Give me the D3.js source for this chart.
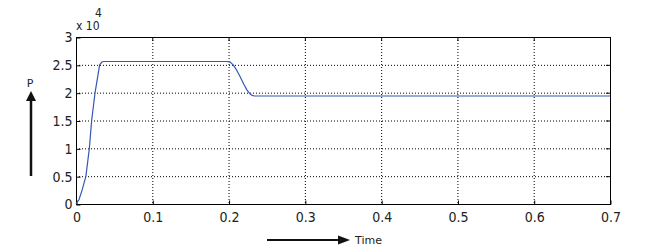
<!DOCTYPE html>
<html><head><meta charset="utf-8">
<script src="https://cdn.jsdelivr.net/npm/d3@7"></script>
<style>body{margin:0;background:#fff}svg{display:block}</style>
</head><body>
<svg id="c" width="660" height="251"></svg>
<script>
const xTicks = [0,0.1,0.2,0.3,0.4,0.5,0.6,0.7];
const yTicks = [0,0.5,1,1.5,2,2.5,3];
const yTickLabels = ["0","0.5","1","1.5","2","2.5","3"];
const timeVals = [0,0.004,0.008,0.013,0.0175,0.0205,0.025,0.031,0.034,0.036,0.1,0.198,0.202,0.206,0.21,0.215,0.22,0.224,0.228,0.231,0.234,0.237,0.3,0.4,0.5,0.6,0.7];
const pVals =    [0,0.08,0.25,0.5,1.0,1.5,2.0,2.5,2.55,2.56,2.56,2.56,2.55,2.5,2.42,2.29,2.15,2.05,1.98,1.95,1.94,1.94,1.94,1.94,1.94,1.94,1.94];

const svg = d3.select("#c");
const L=76,R=610,T=37,B=204;
const x = d3.scaleLinear().domain([0,0.7]).range([L,R]);
const y = d3.scaleLinear().domain([0,3]).range([B,T]);
const font = "'Liberation Sans Narrow','DejaVu Sans Condensed',sans-serif";

// grid
svg.append("g").selectAll("line").data(xTicks.slice(1,-1)).join("line")
  .attr("x1",d=>x(d)+0.5).attr("x2",d=>x(d)+0.5).attr("y1",T).attr("y2",B)
  .attr("stroke","#000").attr("stroke-dasharray","1,2").attr("stroke-width",1);
svg.append("g").selectAll("line").data(yTicks.slice(1,-1)).join("line")
  .attr("y1",d=>y(d)+0.5).attr("y2",d=>y(d)+0.5).attr("x1",L).attr("x2",R)
  .attr("stroke","#000").attr("stroke-dasharray","1,2").attr("stroke-width",1);

// frame
svg.append("rect").attr("x",L+0.5).attr("y",T+0.5).attr("width",R-L).attr("height",B-T)
  .attr("fill","none").attr("stroke","#000");

// axes via d3
const xa = svg.append("g").attr("transform",`translate(0.5,${B+0.5})`)
  .call(d3.axisBottom(x).tickValues(xTicks).tickSize(-4).tickPadding(8).tickFormat(d=>String(d)));
const ya = svg.append("g").attr("transform",`translate(${L+0.5},0.5)`)
  .call(d3.axisLeft(y).tickValues(yTicks).tickSize(-4).tickPadding(4).tickFormat((d,i)=>yTickLabels[i]));
[xa,ya].forEach(a=>{a.select(".domain").remove();
  a.selectAll("text").attr("font-family",font).attr("font-size",14).attr("fill","#222");});
// right / top ticks
svg.append("g").selectAll("line").data(yTicks).join("line")
  .attr("x1",R-4).attr("x2",R).attr("y1",d=>y(d)+0.5).attr("y2",d=>y(d)+0.5).attr("stroke","#000");
svg.append("g").selectAll("line").data(xTicks).join("line")
  .attr("y1",T).attr("y2",T+4).attr("x1",d=>x(d)+0.5).attr("x2",d=>x(d)+0.5).attr("stroke","#000");

// exponent
svg.append("text").attr("x",76).attr("y",30).attr("font-family",font).attr("font-size",12).attr("fill","#222").text("x 10");
svg.append("text").attr("x",95).attr("y",17).attr("font-family",font).attr("font-size",12).attr("fill","#222").text("4");

// line
const line = d3.line().x((d,i)=>x(timeVals[i])).y(d=>y(d));
svg.append("path").datum(pVals).attr("d",line).attr("fill","none").attr("stroke","#3558b0").attr("stroke-width",1.2);

// P arrow
svg.append("text").attr("x",30).attr("y",87).attr("text-anchor","middle").attr("font-family","'DejaVu Sans',sans-serif").attr("font-size",11).attr("fill","#222").text("P");
svg.append("line").attr("x1",31).attr("x2",31).attr("y1",176).attr("y2",99).attr("stroke","#111").attr("stroke-width",2.5);
svg.append("path").attr("d","M31,91 L26,101 L36,101 Z").attr("fill","#111");

// Time arrow
svg.append("line").attr("x1",267).attr("x2",340).attr("y1",240).attr("y2",240).attr("stroke","#111").attr("stroke-width",2);
svg.append("path").attr("d","M350,240 L338,235.5 L338,244.5 Z").attr("fill","#111");
svg.append("text").attr("x",355).attr("y",244).attr("font-family","'DejaVu Sans',sans-serif").attr("font-size",11).attr("fill","#222").text("Time");
</script>
</body></html>
